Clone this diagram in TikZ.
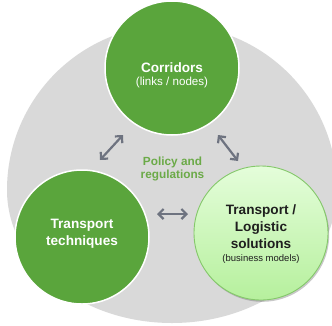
\documentclass[tikz,border=0pt]{standalone}
\usepackage{fontspec}
\setmainfont{Liberation Sans}
\usetikzlibrary{arrows.meta,shadows}
\definecolor{graybg}{HTML}{D9D9D9}
\definecolor{dgreen}{HTML}{5AA53C}
\definecolor{ptext}{HTML}{6BAA48}
\definecolor{arrowgray}{HTML}{6E7380}
\definecolor{lgtop}{HTML}{E4FDDA}
\definecolor{lgbot}{HTML}{B6F09D}
\definecolor{lgborder}{HTML}{84C86A}
\definecolor{darktext}{HTML}{1E1E1E}
\begin{document}
\begin{tikzpicture}[x=1pt,y=-1pt,
  bigcirc/.style={circle, minimum size=134pt, inner sep=0pt},
  darkc/.style={bigcirc, fill=dgreen, draw=white, line width=1.5pt},
  lightc/.style={bigcirc, top color=lgtop, bottom color=lgbot, draw=lgborder, line width=0.9pt,
    drop shadow={shadow xshift=1.2pt, shadow yshift=-1.8pt, opacity=0.3, fill=black!70}},
  wtxt/.style={anchor=base, inner sep=0pt, text=white, font=\fontsize{13.6}{16}\selectfont\bfseries},
  wsmall/.style={anchor=base, inner sep=0pt, text=white, font=\fontsize{11.6}{14}\selectfont},
  ptxt/.style={anchor=base, inner sep=0pt, text=ptext, font=\fontsize{11.8}{14}\selectfont\bfseries},
  btxt/.style={anchor=base, inner sep=0pt, text=darktext, font=\fontsize{13.6}{16}\selectfont\bfseries},
  bsmall/.style={anchor=base, inner sep=0pt, text=darktext, font=\fontsize{9.5}{12}\selectfont},
  dblarrow/.style={draw=arrowgray, line width=2.2pt,
    {Straight Barb[length=5pt,width=10pt]}-{Straight Barb[length=5pt,width=10pt]}}
]
\useasboundingbox (0,0) rectangle (332,325);
\clip (0,0) rectangle (332,325);
\fill[white] (0,0) rectangle (332,325);
% big gray background shape
\fill[graybg] (337,190) arc[start angle=0,end angle=180,radius=165pt]
  arc[start angle=180,end angle=360,x radius=165pt,y radius=133pt] -- cycle;
% circles
\node[darkc] (corr) at (172,68) {};
\node[darkc] (tech) at (82,237) {};
\node[lightc] (sol) at (261,233) {};
% texts
\node[wtxt] (corrT) at (172,72) {Corridors};
\node[wsmall] (corrS) at (172,85.5) {(links / nodes)};
\node[ptxt] (pol1) at (172.5,165) {Policy and};
\node[ptxt] (pol2) at (172.5,178.5) {regulations};
\node[wtxt] (techA) at (82,228.5) {Transport};
\node[wtxt] (techB) at (82,245) {techniques};
\node[btxt] (solA) at (261,214) {Transport /};
\node[btxt] (solB) at (261,231) {Logistic};
\node[btxt] (solC) at (261,248) {solutions};
\node[bsmall] (solD) at (261,261) {(business models)};
% arrows
\coordinate (a1s) at (100,160); \coordinate (a1e) at (123,135);
\coordinate (a2s) at (218,135); \coordinate (a2e) at (238,161);
\coordinate (a3s) at (157,214); \coordinate (a3e) at (188,214);
\draw[dblarrow] (a1s) -- (a1e);
\draw[dblarrow] (a2s) -- (a2e);
\draw[dblarrow] (a3s) -- (a3e);
\end{tikzpicture}
\end{document}
